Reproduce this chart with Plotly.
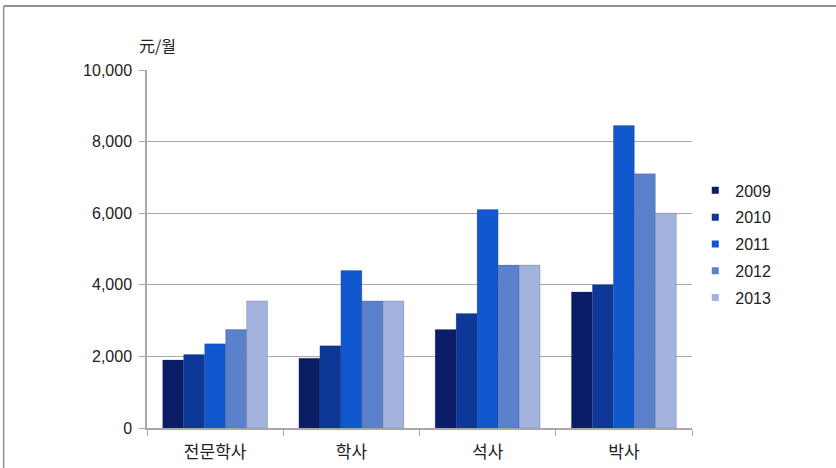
import plotly.graph_objects as go

# Monthly wage (元/월) by degree level and year
categories = ["전문학사", "학사", "석사", "박사"]
years = ["2009", "2010", "2011", "2012", "2013"]
wages = {
    "2009": [1900, 1950, 2750, 3800],
    "2010": [2050, 2300, 3200, 4000],
    "2011": [2350, 4400, 6100, 8450],
    "2012": [2750, 3550, 4550, 7100],
    "2013": [3550, 3550, 4550, 6000],
}
y_ticks = [0, 2000, 4000, 6000, 8000, 10000]
y_tick_text = ["0", "2,000", "4,000", "6,000", "8,000", "10,000"]

colors = ["#0b1d66", "#0e3898", "#1158cf", "#5b80cc", "#a3b3de"]
edge = "rgba(40,50,90,0.35)"

font_latin = "Liberation Sans, Arial, sans-serif"
font_kr = "Noto Sans CJK KR, sans-serif"
grid = "#a8a8a8"

fig = go.Figure()
for yr, col in zip(years, colors):
    fig.add_trace(go.Bar(
        name=yr, x=categories, y=wages[yr], showlegend=False,
        marker=dict(color=col, line=dict(color=edge, width=0.6)),
    ))
# small square legend keys, one group per year for wider spacing
for yr, col in zip(years, colors):
    fig.add_trace(go.Scatter(
        name=yr, x=[None], y=[None], mode="markers", legendgroup=yr,
        marker=dict(symbol="square", size=7, color=col),
    ))

fig.update_layout(
    width=836, height=468,
    margin=dict(l=147, r=144, t=70, b=40),
    paper_bgcolor="white", plot_bgcolor="white",
    barmode="group", bargap=0.23, bargroupgap=0,
    font=dict(family=font_latin, size=16, color="#222"),
    showlegend=True,
    legend=dict(
        x=1.006, y=0.711, xanchor="left", yanchor="top",
        font=dict(family=font_latin, size=16, color="#222"),
        itemwidth=30, tracegroupgap=3, itemsizing="trace",
        bgcolor="rgba(0,0,0,0)",
    ),
    xaxis=dict(
        showline=True, linecolor=grid, linewidth=1.5,
        ticks="outside", ticklen=6, tickcolor=grid, tickson="boundaries",
        ticklabelstandoff=8, automargin=False,
        tickfont=dict(family=font_kr, size=17, color="#222"),
        showgrid=False,
    ),
    yaxis=dict(
        range=[0, 10000], tickvals=y_ticks, ticktext=y_tick_text,
        showline=True, linecolor=grid, linewidth=1.5,
        ticks="outside", ticklen=6, tickcolor=grid,
        ticklabelstandoff=4, automargin=False,
        showgrid=True, gridcolor=grid, gridwidth=1.2,
        zeroline=False,
        tickfont=dict(family=font_latin, size=16, color="#222"),
    ),
    annotations=[
        dict(text="元/월", xref="paper", yref="paper", x=-0.019, y=1.0,
             yshift=11, xanchor="left", yanchor="bottom", showarrow=False,
             font=dict(family=font_kr, size=16, color="#222")),
    ],
    shapes=[
        # frame lines along the top and left of the page
        dict(type="line", xref="paper", yref="paper",
             x0=-0.263, x1=1.3, y0=1.179, y1=1.179,
             line=dict(color="#909090", width=2)),
        dict(type="line", xref="paper", yref="paper",
             x0=-0.263, x1=-0.263, y0=1.179, y1=-0.2,
             line=dict(color="#909090", width=1.5)),
    ],
)

fig.write_html("out.html")
